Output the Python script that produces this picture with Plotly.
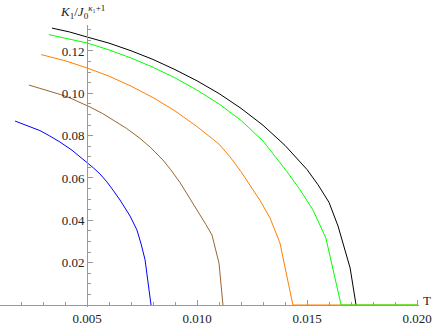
import plotly.graph_objects as go

# curves (T, K1/J0^(k1+1))
t_blue = [0.00173, 0.0023, 0.00286, 0.0033, 0.00377, 0.00432, 0.00500, 0.0053, 0.00559, 0.0059, 0.00618,
          0.00650, 0.00696, 0.0071, 0.00727, 0.00746, 0.00764, 0.00791]
k_blue = [0.0869, 0.0848, 0.0824, 0.0799, 0.0770, 0.0731, 0.0675, 0.0647, 0.0619, 0.0582, 0.0543,
          0.0496, 0.0420, 0.0391, 0.0354, 0.0288, 0.0213, 0.0]

t_brown = [0.00236, 0.0028, 0.00332, 0.0038, 0.00423, 0.0047, 0.00514, 0.0057, 0.00627, 0.0068, 0.00741,
           0.0079, 0.00845, 0.0088, 0.00923, 0.0096, 0.0100, 0.0104, 0.01068, 0.0110, 0.01118]
k_brown = [0.1039, 0.1026, 0.1009, 0.0994, 0.0978, 0.0957, 0.0935, 0.0905, 0.0869, 0.0834, 0.0787,
           0.0743, 0.0685, 0.0640, 0.0578, 0.0517, 0.0449, 0.0381, 0.0331, 0.0198, 0.0]

t_orange = [0.00291, 0.0040, 0.0050, 0.0060, 0.0070, 0.0080, 0.0090, 0.0100, 0.0110, 0.0115, 0.0120,
            0.0125, 0.01286, 0.01332, 0.01377, 0.01436, 0.0200]
k_orange = [0.1183, 0.1154, 0.1120, 0.1081, 0.1034, 0.0980, 0.0917, 0.0843, 0.0760, 0.0700, 0.0630,
            0.0555, 0.0495, 0.0411, 0.0293, 0.0, 0.0]

t_green = [0.00327, 0.0040, 0.0050, 0.0060, 0.0070, 0.0080, 0.0090, 0.0100, 0.0110, 0.0120, 0.0130,
           0.01409, 0.01468, 0.01527, 0.01586, 0.01655, 0.0200]
k_green = [0.1277, 0.1262, 0.1238, 0.1205, 0.1167, 0.1123, 0.1073, 0.1015, 0.0950, 0.0872, 0.0775,
           0.0630, 0.0545, 0.0449, 0.0316, 0.0, 0.0]

t_black = [0.00341, 0.0042, 0.0050, 0.0060, 0.0070, 0.0080, 0.0090, 0.0100, 0.0110, 0.0120, 0.0130,
           0.0140, 0.0150, 0.0155, 0.0160, 0.01641, 0.01696, 0.01723]
k_black = [0.1308, 0.1290, 0.1266, 0.1237, 0.1201, 0.1160, 0.1112, 0.1059, 0.0999, 0.0929, 0.0849,
           0.0754, 0.0640, 0.0568, 0.0485, 0.0373, 0.0175, 0.0]

x_ticks = [0.005, 0.010, 0.015, 0.020]
y_ticks = [0.02, 0.04, 0.06, 0.08, 0.10, 0.12]

x_range = [0.0010455, 0.0200909]
y_range = [-0.000945, 0.13227]
x_cross = 0.005  # where the vertical axis sits
y_cross = 0.0

series = [
    (t_blue, k_blue, "#0000ff"),
    (t_brown, k_brown, "#996633"),
    (t_black, k_black, "#000000"),
    (t_orange, k_orange, "#ff8000"),
    (t_green, k_green, "#00ff00"),
]

fig = go.Figure()
for t, k, c in series:
    fig.add_trace(go.Scatter(x=t, y=k, mode="lines", showlegend=False, hoverinfo="skip",
                             line=dict(color=c, width=1)))

serif = "Liberation Serif, Times New Roman, serif"
axis_font = dict(family=serif, size=13, color="#222222")
axis_col = "#999999"

fig.update_layout(
    width=436, height=327,
    margin=dict(l=0, r=17, t=25, b=20),
    plot_bgcolor="white", paper_bgcolor="white",
    xaxis=dict(
        range=x_range, showgrid=False, zeroline=False,
        showline=True, linecolor=axis_col, linewidth=1,
        anchor="free", position=(y_cross - y_range[0]) / (y_range[1] - y_range[0]),
        tickmode="array", tickvals=x_ticks, tickformat=".3f",
        ticks="inside", ticklen=5, tickcolor=axis_col, ticklabelstandoff=1,
        minor=dict(tickmode="linear", tick0=0, dtick=0.001, ticks="inside", ticklen=3, tickcolor=axis_col),
        tickfont=axis_font, automargin=False,
    ),
    yaxis=dict(
        range=y_range, showgrid=False, zeroline=False,
        showline=True, linecolor=axis_col, linewidth=1,
        anchor="free", position=(x_cross - x_range[0]) / (x_range[1] - x_range[0]),
        tickmode="array", tickvals=y_ticks, tickformat=".2f",
        ticks="inside", ticklen=5, tickcolor=axis_col,
        minor=dict(tickmode="linear", tick0=0, dtick=0.005, ticks="inside", ticklen=3, tickcolor=axis_col),
        tickfont=axis_font, automargin=False,
    ),
)

# axis labels, Mathematica style
fig.add_annotation(
    x=x_cross, xref="x", y=1, yref="paper", yanchor="bottom", yshift=2, xshift=-5,
    text="<i>K</i><sub>1</sub>/<i>J</i><sub>0</sub><sup><i>κ</i>₁+1</sup>",
    showarrow=False, font=dict(family=serif, size=13, color="#222222"),
)
fig.add_annotation(
    x=1, xref="paper", xanchor="left", xshift=2, y=y_cross, yref="y", yanchor="middle", yshift=5,
    text="T", showarrow=False, font=dict(family=serif, size=13, color="#222222"),
)

# drop the browser's default page margin so the figure sits at the corner
fig.write_html("out.html", config={"displayModeBar": False},
               post_script="document.body.style.margin='0';")
